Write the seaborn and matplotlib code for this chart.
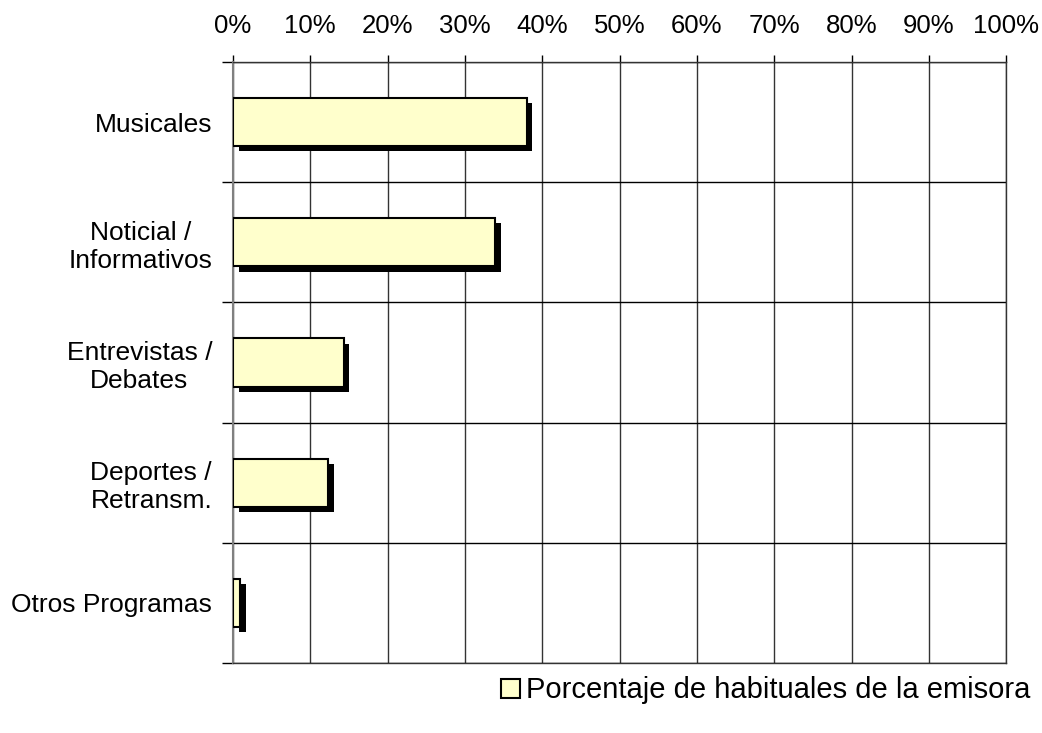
import matplotlib
matplotlib.use("Agg")
import matplotlib.pyplot as plt
import matplotlib.patheffects as pe
from matplotlib.patches import Patch
from matplotlib.ticker import FixedLocator, PercentFormatter, NullFormatter
import pandas as pd
import seaborn as sns

categories = ["Musicales", "Noticial /\nInformativos", "Entrevistas /\nDebates",
              "Deportes /\nRetransm.", "Otros Programas"]
values = [38.0, 33.9, 14.3, 12.3, 0.9]
series_name = "Porcentaje de habituales de la emisora"

sns.set_style("white")
plt.rcParams["font.family"] = ["Liberation Sans", "DejaVu Sans"]
plt.rcParams["text.color"] = "black"
plt.rcParams["xtick.color"] = "black"
plt.rcParams["ytick.color"] = "black"

df = pd.DataFrame({"categoria": categories, "valor": values})

fig = plt.figure(figsize=(10.42, 7.33), dpi=100)
ax = fig.add_axes([0.2236, 0.0955, 0.742, 0.8200])

sns.barplot(data=df, x="valor", y="categoria", orient="h", color="#FFFFCC",
            saturation=1, width=0.4, edgecolor="black", linewidth=1.5, ax=ax, zorder=3)

for bar in ax.patches:
    bar.set_path_effects([pe.SimplePatchShadow(offset=(4.0, -3.8), shadow_rgbFace="black", alpha=1),
                          pe.Normal()])

ax.set_xlim(0, 100)
ax.set_ylim(4.5, -0.5)
ax.xaxis.tick_top()
ax.xaxis.set_major_locator(FixedLocator(range(0, 101, 10)))
ax.xaxis.set_major_formatter(PercentFormatter(decimals=0))
ax.tick_params(axis="x", which="major", top=True, bottom=False, length=5, width=1,
               color="black", labelcolor="black", labelsize=18.5, pad=12)

# category labels at centres, tick marks on the band edges
ax.yaxis.set_minor_locator(FixedLocator([-0.5, 0.5, 1.5, 2.5, 3.5, 4.5]))
ax.yaxis.set_minor_formatter(NullFormatter())
ax.tick_params(axis="y", which="major", left=False, length=0, labelsize=19,
               labelcolor="black", pad=15)
ax.tick_params(axis="y", which="minor", left=True, length=8, width=1, color="black")
for lbl in ax.get_yticklabels():
    lbl.set_multialignment("center")

ax.set_xlabel("")
ax.set_ylabel("")

ax.grid(axis="x", which="major", color="#333333", linewidth=1, zorder=0)
ax.grid(axis="y", which="minor", color="black", linewidth=1, zorder=0)
ax.grid(axis="y", which="major", visible=False)

for side in ["top", "right", "bottom"]:
    ax.spines[side].set_visible(True)
    ax.spines[side].set_color("#333333")
    ax.spines[side].set_linewidth(1)
ax.spines["left"].set_color("#808080")
ax.spines["left"].set_linewidth(1.5)

handle = Patch(facecolor="#FFFFCC", edgecolor="black", linewidth=1.5, label=series_name)
fig.legend(handles=[handle], loc="center right", bbox_to_anchor=(1.0, 0.058),
           frameon=False, fontsize=21, handlelength=0.65, handleheight=0.65,
           handletextpad=0.2, borderaxespad=0.0, labelcolor="black")

fig.savefig("out.png", dpi=100)
